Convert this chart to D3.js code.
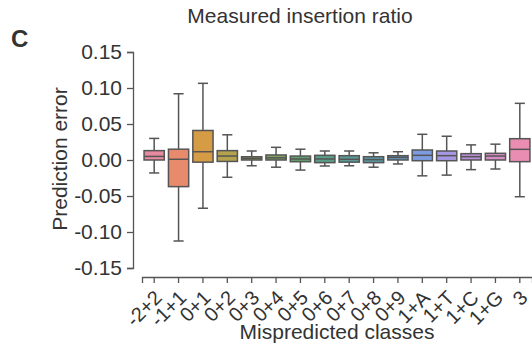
<!DOCTYPE html>
<html><head><meta charset="utf-8">
<script src="https://cdn.jsdelivr.net/npm/d3@7"></script>
<style>
body{margin:0;background:#fff;}
text{font-family:"Liberation Sans",Arial,sans-serif;fill:#333;}
</style></head>
<body><svg id="c" width="532" height="345"></svg>
<script>
const categories = ["-2+2","-1+1","0+1","0+2","0+3","0+4","0+5","0+6","0+7","0+8","0+9","1+A","1+T","1+C","1+G","3"];
const whiskerLow  = [-0.018,-0.1125,-0.067,-0.024,-0.008,-0.010,-0.014,-0.0083,-0.008,-0.010,-0.0055,-0.022,-0.021,-0.0134,-0.0125,-0.051];
const q1          = [0.000,-0.037,-0.003,-0.002,0.000,0.000,-0.0024,-0.0037,-0.003,-0.0037,0.000,-0.001,-0.001,0.000,0.000,-0.0023];
const medians     = [0.005,0.001,0.0115,0.0055,0.0023,0.003,0.0014,0.0014,0.001,0.0005,0.0037,0.0065,0.006,0.0046,0.0055,0.0148];
const q3          = [0.013,0.015,0.041,0.013,0.0045,0.007,0.0055,0.0065,0.006,0.0046,0.006,0.0139,0.0125,0.0088,0.0093,0.0296];
const whiskerHigh = [0.030,0.092,0.1065,0.035,0.0125,0.0176,0.015,0.0125,0.0125,0.010,0.0115,0.0357,0.033,0.021,0.022,0.0787];
const yTicks = [0.15,0.10,0.05,0.00,-0.05,-0.10,-0.15];
const palette = ["#e58a9f","#e88a6c","#d69b45","#b5a24e","#98a55a","#80a363","#61a06c","#5a9d86","#5a9b96","#5b98a5","#6092b8","#7d9be0","#a697e3","#bb8fd6","#d88cc4","#e98db3"];

const svg = d3.select("#c");
const x = d3.scaleBand().domain(categories).range([142, 532]).paddingInner(0.17).paddingOuter(0.085);
const y = d3.scaleLinear().domain([-0.15, 0.15]).range([268, 52]);
const lineCol = "#555";

// y axis
const ya = svg.append("g").attr("transform","translate(133,0)")
  .call(d3.axisLeft(y).tickValues(yTicks).tickFormat(d3.format(".2f")).tickSizeOuter(0).tickSize(6).tickPadding(5));
ya.select(".domain").attr("stroke",lineCol).attr("stroke-width",1.3);
ya.selectAll(".tick line").attr("stroke",lineCol).attr("stroke-width",1.3);
ya.selectAll(".tick text").style("font-size","21px").attr("fill","#333").text(d => d3.format(".2f")(d).replace("−","-"));

// x axis
const xa = svg.append("g").attr("transform","translate(0,277)")
  .call(d3.axisBottom(x).tickSizeOuter(0).tickSize(6));
xa.select(".domain").attr("stroke",lineCol).attr("stroke-width",1.3);
xa.selectAll(".tick line").attr("stroke",lineCol).attr("stroke-width",1.3);
xa.selectAll(".tick text").style("font-size","20px").attr("fill","#333")
  .attr("text-anchor","end").attr("dy",null).attr("y",null)
  .attr("transform","translate(9,22) rotate(-45)");

// boxes
const data = categories.map((c,i)=>({c, lo:whiskerLow[i], q1:q1[i], med:medians[i], q3:q3[i], hi:whiskerHigh[i], col:palette[i]}));
const bw = x.bandwidth();
const g = svg.append("g").selectAll("g").data(data).join("g")
  .attr("transform", d => `translate(${x(d.c)},0)`);
g.append("line").attr("x1",bw/2).attr("x2",bw/2).attr("y1",d=>y(d.hi)).attr("y2",d=>y(d.q3)).attr("stroke",lineCol).attr("stroke-width",1.5);
g.append("line").attr("x1",bw/2).attr("x2",bw/2).attr("y1",d=>y(d.q1)).attr("y2",d=>y(d.lo)).attr("stroke",lineCol).attr("stroke-width",1.5);
g.append("line").attr("x1",bw/4).attr("x2",bw*3/4).attr("y1",d=>y(d.hi)).attr("y2",d=>y(d.hi)).attr("stroke",lineCol).attr("stroke-width",1.5);
g.append("line").attr("x1",bw/4).attr("x2",bw*3/4).attr("y1",d=>y(d.lo)).attr("y2",d=>y(d.lo)).attr("stroke",lineCol).attr("stroke-width",1.5);
g.append("rect").attr("x",0).attr("width",bw).attr("y",d=>y(d.q3)).attr("height",d=>y(d.q1)-y(d.q3))
  .attr("fill",d=>d.col).attr("stroke",lineCol).attr("stroke-width",1.5);
g.append("line").attr("x1",0).attr("x2",bw).attr("y1",d=>y(d.med)).attr("y2",d=>y(d.med)).attr("stroke",lineCol).attr("stroke-width",1.5);

// texts
svg.append("text").attr("x",300).attr("y",23).attr("text-anchor","middle").style("font-size","21px").text("Measured insertion ratio");
svg.append("text").attr("x",11).attr("y",47).style("font-size","24px").style("font-weight","bold").attr("fill","#111").text("C");
svg.append("text").attr("transform","translate(67,159) rotate(-90)").attr("text-anchor","middle").style("font-size","21px").text("Prediction error");
svg.append("text").attr("x",337).attr("y",339).attr("text-anchor","middle").style("font-size","21px").text("Mispredicted classes");
</script></body></html>
